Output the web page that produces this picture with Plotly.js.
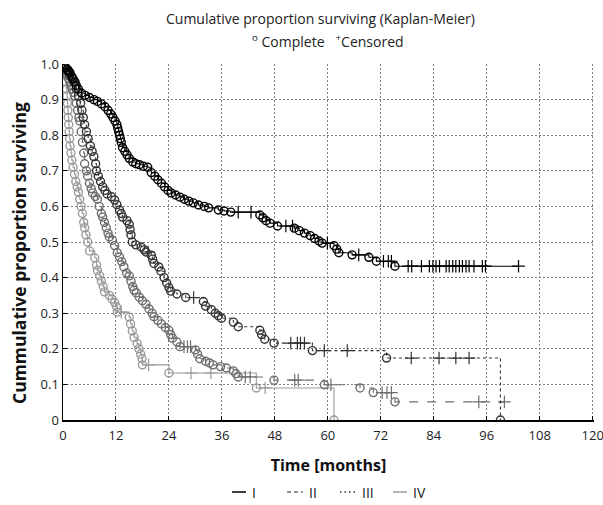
<!DOCTYPE html>
<html>
<head>
<meta charset="utf-8">
<script src="https://cdn.plot.ly/plotly-3.0.1.min.js"></script>
<style>html,body{margin:0;padding:0;background:#fff;}#chart{width:603px;height:505px;}</style>
</head>
<body>
<div id="chart"></div>
<script>
// ---- Data (time in months, survival proportion) ----
const groupNames = ['I', 'II', 'III', 'IV'];
const xTicks = [0, 12, 24, 36, 48, 60, 72, 84, 96, 108, 120];
const yTicks = [0, 0.1, 0.2, 0.3, 0.4, 0.5, 0.6, 0.7, 0.8, 0.9, 1.0];
const yTickText = ['0', '0.1', '0.2', '0.3', '0.4', '0.5', '0.6', '0.7', '0.8', '0.9', '1.0'];

// Group I: event times, survival after event, censored times
const tI = [0.3,0.6,1.0,1.3,1.6,2.0,2.3,2.7,3.0,3.5,4.2,5.0,6.0,7.0,7.8,8.7,9.5,10.2,10.8,11.3,11.8,12.2,12.4,12.6,12.8,13.0,13.2,13.5,14.0,14.5,15.0,15.8,16.5,17.3,18.2,19.2,20.0,20.8,21.5,22.3,23.0,23.8,24.5,25.5,26.5,27.5,28.5,29.5,30.7,32.0,33.0,35.2,36.5,38.0,44.6,45.3,46.0,46.9,48.6,52.4,53.5,54.7,56.0,57.0,58.0,58.7,61.4,62.0,62.5,65.5,69.3,71.0,75.2];
const sI = [0.995,0.99,0.985,0.98,0.975,0.965,0.958,0.95,0.94,0.93,0.918,0.912,0.906,0.90,0.895,0.888,0.88,0.87,0.86,0.85,0.84,0.83,0.82,0.81,0.80,0.79,0.78,0.765,0.755,0.745,0.735,0.725,0.72,0.717,0.713,0.71,0.695,0.685,0.675,0.665,0.655,0.645,0.638,0.632,0.626,0.62,0.615,0.61,0.604,0.60,0.596,0.59,0.587,0.584,0.576,0.568,0.56,0.553,0.545,0.539,0.532,0.525,0.518,0.51,0.503,0.497,0.49,0.48,0.47,0.464,0.457,0.446,0.432];
const cI = [39.7,42.6,50.5,52.0,59.9,67.0,72.6,73.7,74.4,78.2,79.0,81.2,83.0,83.8,84.5,85.3,86.8,87.5,88.3,89.0,89.8,90.5,91.3,92.0,93.1,95.0,95.7,103.2];

// Group II
const tII = [0.3,0.6,0.9,1.2,1.5,1.8,2.1,2.4,2.7,3.0,3.3,3.6,3.8,4.1,4.4,4.7,4.9,5.3,5.6,6.0,6.4,6.7,7.3,7.8,8.2,8.7,9.0,9.4,9.8,10.2,10.5,11.2,11.7,12.3,12.8,13.3,13.8,14.4,15.0,15.4,15.8,16.1,16.6,17.3,18.0,18.8,19.5,20.2,20.6,21.5,22.3,23.2,24.0,24.4,24.8,25.8,26.5,30.0,30.5,31.0,32.3,33.2,34.0,35.7,37.0,38.6,39.2,39.7,47.8,59.2,67.3,70.3,75.2];
const sII = [0.99,0.98,0.97,0.96,0.95,0.94,0.93,0.92,0.91,0.89,0.87,0.85,0.84,0.81,0.78,0.75,0.72,0.70,0.685,0.665,0.65,0.638,0.628,0.62,0.60,0.58,0.57,0.555,0.54,0.525,0.514,0.505,0.49,0.47,0.458,0.445,0.43,0.413,0.405,0.39,0.375,0.365,0.357,0.345,0.335,0.325,0.312,0.30,0.29,0.28,0.27,0.26,0.252,0.24,0.23,0.219,0.206,0.197,0.185,0.172,0.165,0.16,0.155,0.15,0.146,0.138,0.13,0.121,0.112,0.099,0.09,0.077,0.051];
const cII = [27.4,28.2,28.9,41.3,42.4,52.5,53.3,60.7,72.3,73.4,74.4,94.2,100.0];

// Group III
const tIII = [0.5,1.0,1.5,2.0,2.5,3.0,3.5,4.0,4.3,4.6,4.9,5.3,5.7,6.2,6.6,7.0,7.4,7.6,8.0,8.5,9.0,9.5,10.0,11.0,11.7,12.2,12.8,13.2,13.5,14.5,15.0,15.2,15.4,15.7,16.5,17.7,18.4,18.8,20.0,20.3,20.6,21.7,22.2,22.9,23.5,24.0,24.4,25.8,27.8,31.8,32.3,33.6,34.5,35.2,35.9,38.6,39.7,44.6,45.0,45.7,47.8,56.5,73.3,99.1];
const sIII = [0.99,0.98,0.97,0.96,0.95,0.93,0.91,0.89,0.87,0.85,0.83,0.81,0.79,0.77,0.755,0.74,0.72,0.70,0.685,0.67,0.655,0.645,0.635,0.627,0.618,0.605,0.59,0.58,0.57,0.56,0.55,0.535,0.52,0.50,0.492,0.486,0.478,0.472,0.463,0.452,0.44,0.43,0.418,0.40,0.385,0.372,0.362,0.354,0.344,0.333,0.32,0.31,0.30,0.293,0.286,0.275,0.262,0.252,0.24,0.227,0.216,0.195,0.174,0];
const cIII = [19.3,29.6,51.6,53.1,53.8,54.7,59.2,64.4,78.9,85.2,89.0,92.0];

// Group IV
const tIV = [0.2,0.4,0.6,0.8,0.9,1.0,1.1,1.2,1.3,1.4,1.5,1.6,1.8,2.0,2.3,2.6,2.9,3.2,3.5,3.8,4.1,4.4,4.7,4.9,5.2,5.6,6.0,7.2,7.6,7.8,8.3,8.7,9.1,9.4,10.5,11.1,11.7,12.1,12.3,15.0,15.3,15.7,16.1,16.8,17.2,17.6,17.9,18.0,24.0,43.8,61.4];
const sIV = [0.99,0.97,0.95,0.93,0.91,0.89,0.87,0.85,0.83,0.81,0.79,0.77,0.75,0.73,0.71,0.69,0.67,0.655,0.64,0.62,0.60,0.58,0.555,0.54,0.52,0.50,0.475,0.455,0.435,0.42,0.405,0.39,0.375,0.36,0.35,0.34,0.33,0.318,0.303,0.289,0.27,0.25,0.232,0.215,0.20,0.185,0.172,0.155,0.132,0.09,0];
const cIV = [13.2,19.4,29.0,33.5,45.8];

const groupColors = ['#000000', '#6e6e6e', '#333333', '#9a9a9a'];
const groupDash = ['solid', 'dash', 'dot', 'solid'];

// ---- Build Kaplan-Meier step curves ----
function survAt(t, s, time) {
  let cur = 1;
  for (let i = 0; i < t.length; i++) { if (t[i] <= time) cur = s[i]; }
  return cur;
}
function buildSteps(t, s, c) {
  const pts = t.map((v, i) => ({ t: v, e: true, s: s[i] }))
    .concat(c.map(v => ({ t: v, e: false })));
  pts.sort((a, b) => a.t - b.t || (a.e ? -1 : 1));
  const x = [0], y = [1];
  let cur = 1;
  pts.forEach(p => { if (p.e) cur = p.s; x.push(p.t); y.push(cur); });
  return { x, y };
}

const data = [
  { t: tI, s: sI, c: cI },
  { t: tII, s: sII, c: cII },
  { t: tIII, s: sIII, c: cIII },
  { t: tIV, s: sIV, c: cIV }
];

const traces = [];
const drawOrder = [3, 1, 2, 0];
drawOrder.forEach(g => {
  const d = data[g];
  const st = buildSteps(d.t, d.s, d.c);
  traces.push({
    x: st.x, y: st.y, mode: 'lines', type: 'scatter', name: groupNames[g],
    line: { shape: 'hv', color: groupColors[g], width: 1.1, dash: groupDash[g] },
    showlegend: false, hoverinfo: 'skip'
  });
  traces.push({
    x: d.t, y: d.s, mode: 'markers', type: 'scatter', showlegend: false,
    marker: { symbol: 'circle-open', size: 8, color: groupColors[g], line: { width: 1.4, color: groupColors[g] } }
  });
  traces.push({
    x: d.c, y: d.c.map(v => survAt(d.t, d.s, v)), mode: 'markers', type: 'scatter', showlegend: false,
    marker: { symbol: 'cross-thin-open', size: 9, color: groupColors[g], line: { width: 1.2, color: groupColors[g] } }
  });
});

// ---- Layout helpers (pixel -> paper) ----
const L = 63, R = 594, T = 64, B = 420;
const px = v => (v - L) / (R - L);
const py = v => (B - v) / (B - T);
const font = 'Open Sans, sans-serif';

// Legend below the axis title: line samples as shapes, names as annotations
const legSample = [[232, 246], [287, 303], [340, 356], [393, 407]];
const legendY = 492;
const legDash = ['solid', '4px,3px', '1.5px,3px', 'solid'];
const shapes = groupNames.map((n, i) => ({
  type: 'line', xref: 'paper', yref: 'paper',
  x0: px(legSample[i][0]), x1: px(legSample[i][1]), y0: py(legendY), y1: py(legendY),
  line: { color: groupColors[i], width: 1.5, dash: legDash[i] }
}));
const annotations = groupNames.map((n, i) => ({
  xref: 'paper', yref: 'paper', x: px(legSample[i][1] + 4), y: py(legendY),
  xanchor: 'left', yanchor: 'middle', showarrow: false, text: n,
  font: { family: font, size: 14, color: '#222' }
}));
// Two-line chart title
annotations.push({
  xref: 'paper', yref: 'paper', x: px(320), y: py(18), xanchor: 'center', yanchor: 'middle',
  showarrow: false, text: 'Cumulative proportion surviving (Kaplan-Meier)',
  font: { family: font, size: 14, color: '#222' }
});
annotations.push({
  xref: 'paper', yref: 'paper', x: px(328), y: py(41), xanchor: 'center', yanchor: 'middle',
  showarrow: false, text: '<sup>o</sup> Complete   <sup>+</sup>Censored',
  font: { family: font, size: 14, color: '#222' }
});
// Y-axis title (placed like the reference, slightly below the plot centre)
annotations.push({
  xref: 'paper', yref: 'paper', x: px(19), y: py(253), xanchor: 'center', yanchor: 'middle',
  textangle: -90, showarrow: false, text: '<b>Cummulative proportion surviving</b>',
  font: { family: font, size: 17.5, color: '#111' }
});

const layout = {
  width: 603, height: 505,
  margin: { l: L, r: 603 - R, t: T, b: 505 - B },
  paper_bgcolor: '#fff', plot_bgcolor: '#fff',
  showlegend: false,
  xaxis: {
    range: [0, 120.3], tickvals: xTicks, ticktext: xTicks.map(String),
    showgrid: true, gridcolor: '#808080', griddash: '1.5px,2.5px', gridwidth: 1,
    showline: true, linecolor: '#000', linewidth: 1.5, zeroline: false,
    ticks: 'inside', ticklen: 4, tickcolor: '#000', ticklabeloverflow: 'allow',
    ticklabelstandoff: 3,
    tickfont: { family: font, size: 13, color: '#222' },
    title: { text: '<b>Time [months]</b>', font: { family: font, size: 16, color: '#111' }, standoff: 16 }
  },
  yaxis: {
    range: [0, 1.0001], tickvals: yTicks, ticktext: yTickText,
    showgrid: true, gridcolor: '#808080', griddash: '1.5px,2.5px', gridwidth: 1,
    showline: true, linecolor: '#000', linewidth: 1.5, zeroline: false,
    ticks: 'inside', ticklen: 4, tickcolor: '#000',
    tickfont: { family: font, size: 13, color: '#222' }
  },
  shapes: shapes,
  annotations: annotations
};

Plotly.newPlot('chart', traces, layout, { displayModeBar: false, staticPlot: true });
</script>
</body>
</html>
